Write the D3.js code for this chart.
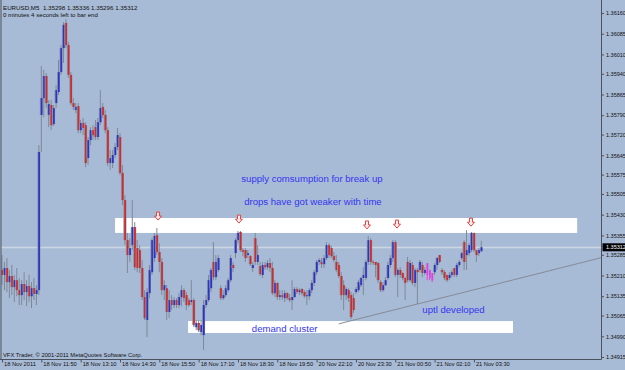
<!DOCTYPE html>
<html><head><meta charset="utf-8">
<script src="https://cdn.jsdelivr.net/npm/d3@7/dist/d3.min.js"></script>
<style>
body{margin:0;background:#a8bbd6}
svg{display:block}
text{font-family:"Liberation Sans",Arial,sans-serif}
</style>
</head><body><svg id="c" width="625" height="370"></svg>
<script>
// ---------------- data ----------------
const symbolInfo = "EURUSD,M5  1.35298 1.35336 1.35296 1.35312";
const timerInfo = "0 minutes 4 seconds left to bar end";
const copyright = "VFX Trader, \u00A9 2001-2011 MetaQuotes Software Corp.";

const priceTicks = [1.36160,1.36085,1.36010,1.35940,1.35865,1.35790,1.35720,1.35645,1.35575,
                    1.35505,1.35430,1.35355,1.35285,1.35210,1.35135,1.35065,1.34990,1.34915];
const timeTickBars = [0,16,32,48,64,80,96,112,128,144,160,176,192];
const timeLabels = ["18 Nov 2011","18 Nov 11:50","18 Nov 13:10","18 Nov 14:30","18 Nov 15:50",
  "18 Nov 17:10","18 Nov 18:30","18 Nov 19:50","20 Nov 22:10","20 Nov 23:30",
  "21 Nov 00:50","21 Nov 02:10","21 Nov 03:30"];
const currentPrice = 1.35312;

// M5 candles: [open, high, low, close]
const bars = [
[1.35230,1.35284,1.35175,1.35212],[1.35212,1.35259,1.35157,1.35237],[1.35237,1.35273,1.35150,1.35186],
[1.35186,1.35230,1.35128,1.35208],[1.35208,1.35248,1.35139,1.35168],[1.35168,1.35212,1.35114,1.35193],
[1.35193,1.35237,1.35135,1.35157],[1.35157,1.35201,1.35103,1.35139],[1.35139,1.35193,1.35103,1.35179],
[1.35179,1.35222,1.35121,1.35150],[1.35150,1.35193,1.35099,1.35172],[1.35172,1.35212,1.35114,1.35135],
[1.35135,1.35186,1.35092,1.35164],[1.35164,1.35201,1.35121,1.35143],[1.35143,1.35175,1.35103,1.35157],
[1.35157,1.35682,1.35139,1.35657],[1.35791,1.35968,1.35657,1.35852],[1.35852,1.35954,1.35783,1.35932],
[1.35932,1.35943,1.35816,1.35834],[1.35791,1.35845,1.35747,1.35830],[1.35827,1.35845,1.35736,1.35754],
[1.35758,1.35827,1.35751,1.35816],[1.35834,1.35899,1.35816,1.35881],[1.35874,1.35990,1.35863,1.35946],
[1.35946,1.36044,1.35936,1.36033],[1.36033,1.36127,1.35979,1.36117],[1.36124,1.36138,1.36033,1.36044],
[1.36044,1.36055,1.35925,1.35936],[1.35936,1.35946,1.35827,1.35834],[1.35834,1.35852,1.35809,1.35820],
[1.35809,1.35834,1.35798,1.35820],[1.35823,1.35834,1.35725,1.35736],[1.35736,1.35773,1.35725,1.35762],
[1.35762,1.35780,1.35718,1.35744],[1.35754,1.35765,1.35602,1.35617],[1.35635,1.35711,1.35610,1.35700],
[1.35700,1.35747,1.35682,1.35736],[1.35736,1.35754,1.35700,1.35718],[1.35747,1.35773,1.35700,1.35711],
[1.35711,1.35780,1.35700,1.35765],[1.35765,1.35881,1.35754,1.35816],[1.35820,1.35834,1.35780,1.35791],
[1.35791,1.35809,1.35725,1.35736],[1.35736,1.35747,1.35606,1.35617],[1.35617,1.35664,1.35592,1.35635],
[1.35617,1.35664,1.35599,1.35646],[1.35646,1.35689,1.35635,1.35675],[1.35675,1.35744,1.35664,1.35718],
[1.35711,1.35725,1.35573,1.35581],[1.35581,1.35610,1.35465,1.35483],[1.35483,1.35501,1.35320,1.35338],
[1.35338,1.35364,1.35219,1.35284],[1.35284,1.35345,1.35259,1.35309],[1.35320,1.35483,1.35302,1.35385],
[1.35385,1.35403,1.35230,1.35240],[1.35309,1.35338,1.35222,1.35237],[1.35302,1.35320,1.35219,1.35237],
[1.35237,1.35266,1.35121,1.35132],[1.35132,1.35157,1.35049,1.35056],[1.35049,1.35164,1.34987,1.35150],
[1.35146,1.35248,1.35128,1.35230],[1.35222,1.35345,1.35212,1.35338],[1.35273,1.35364,1.35259,1.35353],
[1.35356,1.35382,1.35284,1.35295],[1.35295,1.35327,1.35222,1.35259],[1.35259,1.35273,1.35139,1.35157],
[1.35157,1.35193,1.35121,1.35175],[1.35164,1.35175,1.35049,1.35078],[1.35078,1.35157,1.35056,1.35121],
[1.35121,1.35139,1.35085,1.35103],[1.35103,1.35132,1.35092,1.35121],[1.35121,1.35128,1.35092,1.35103],
[1.35103,1.35146,1.35092,1.35132],[1.35132,1.35175,1.35099,1.35157],[1.35157,1.35164,1.35114,1.35128],
[1.35139,1.35150,1.35085,1.35103],[1.35121,1.35128,1.35096,1.35103],[1.35114,1.35193,1.35103,1.35121],
[1.35121,1.35128,1.35023,1.35031],[1.35023,1.35049,1.35012,1.35038],[1.35038,1.35049,1.35005,1.35012],
[1.35005,1.35049,1.34994,1.35031],[1.34994,1.35121,1.34940,1.35103],[1.35103,1.35139,1.35092,1.35121],
[1.35121,1.35212,1.35114,1.35193],[1.35164,1.35237,1.35150,1.35230],[1.35259,1.35331,1.35193,1.35204],
[1.35204,1.35284,1.35193,1.35259],[1.35230,1.35284,1.35222,1.35273],[1.35164,1.35175,1.35121,1.35128],
[1.35128,1.35157,1.35121,1.35139],[1.35139,1.35175,1.35132,1.35164],[1.35157,1.35201,1.35150,1.35193],
[1.35193,1.35284,1.35186,1.35273],[1.35248,1.35259,1.35222,1.35237],[1.35291,1.35345,1.35273,1.35338],
[1.35338,1.35371,1.35327,1.35364],[1.35367,1.35371,1.35295,1.35302],[1.35302,1.35309,1.35280,1.35295],
[1.35302,1.35309,1.35259,1.35273],[1.35284,1.35302,1.35273,1.35291],[1.35280,1.35284,1.35244,1.35251],
[1.35237,1.35259,1.35222,1.35248],[1.35345,1.35364,1.35248,1.35259],[1.35259,1.35320,1.35248,1.35284],
[1.35244,1.35259,1.35208,1.35215],[1.35212,1.35259,1.35201,1.35248],[1.35248,1.35259,1.35230,1.35240],
[1.35240,1.35266,1.35230,1.35255],[1.35255,1.35273,1.35222,1.35237],[1.35237,1.35259,1.35139,1.35146],
[1.35146,1.35193,1.35132,1.35183],[1.35183,1.35186,1.35121,1.35132],[1.35132,1.35157,1.35121,1.35139],
[1.35139,1.35157,1.35121,1.35132],[1.35128,1.35157,1.35114,1.35146],[1.35146,1.35150,1.35121,1.35128],
[1.35128,1.35143,1.35114,1.35121],[1.35121,1.35193,1.35085,1.35132],[1.35132,1.35168,1.35128,1.35161],
[1.35161,1.35168,1.35143,1.35150],[1.35150,1.35164,1.35139,1.35157],[1.35161,1.35164,1.35139,1.35146],
[1.35150,1.35157,1.35128,1.35135],[1.35135,1.35157,1.35103,1.35139],[1.35135,1.35164,1.35121,1.35157],
[1.35157,1.35193,1.35146,1.35183],[1.35183,1.35230,1.35172,1.35222],[1.35222,1.35266,1.35212,1.35259],
[1.35259,1.35273,1.35248,1.35266],[1.35259,1.35273,1.35237,1.35251],[1.35251,1.35284,1.35237,1.35273],
[1.35273,1.35331,1.35266,1.35320],[1.35320,1.35327,1.35273,1.35284],[1.35309,1.35317,1.35273,1.35280],
[1.35280,1.35295,1.35259,1.35266],[1.35259,1.35284,1.35222,1.35230],[1.35248,1.35259,1.35201,1.35208],
[1.35208,1.35222,1.35121,1.35139],[1.35175,1.35193,1.35085,1.35139],[1.35139,1.35168,1.35121,1.35161],
[1.35157,1.35164,1.35114,1.35128],[1.35139,1.35150,1.35052,1.35060],[1.35128,1.35146,1.35074,1.35085],
[1.35150,1.35168,1.35143,1.35161],[1.35157,1.35193,1.35150,1.35186],[1.35175,1.35204,1.35168,1.35201],
[1.35201,1.35240,1.35139,1.35212],[1.35201,1.35266,1.35193,1.35259],[1.35259,1.35353,1.35248,1.35338],
[1.35338,1.35345,1.35248,1.35259],[1.35259,1.35266,1.35248,1.35255],[1.35259,1.35259,1.35204,1.35248],
[1.35255,1.35259,1.35183,1.35193],[1.35186,1.35193,1.35150,1.35157],[1.35157,1.35186,1.35150,1.35175],
[1.35175,1.35204,1.35172,1.35193],[1.35201,1.35259,1.35193,1.35248],[1.35248,1.35284,1.35237,1.35273],
[1.35273,1.35338,1.35259,1.35331],[1.35331,1.35338,1.35204,1.35212],[1.35212,1.35237,1.35132,1.35230],
[1.35230,1.35240,1.35201,1.35212],[1.35219,1.35222,1.35193,1.35201],[1.35201,1.35204,1.35121,1.35183],
[1.35259,1.35277,1.35186,1.35193],[1.35193,1.35266,1.35186,1.35255],[1.35248,1.35259,1.35175,1.35183],
[1.35183,1.35237,1.35168,1.35230],[1.35230,1.35237,1.35107,1.35222],[1.35230,1.35266,1.35222,1.35259],
[1.35248,1.35259,1.35204,1.35219],[1.35219,1.35240,1.35212,1.35230],[1.35255,1.35255,1.35193,1.35212],
[1.35230,1.35230,1.35193,1.35201],[1.35219,1.35219,1.35186,1.35193],[1.35222,1.35255,1.35212,1.35248],
[1.35248,1.35277,1.35230,1.35273],[1.35284,1.35284,1.35255,1.35259],[1.35230,1.35237,1.35212,1.35222],
[1.35222,1.35230,1.35193,1.35201],[1.35212,1.35212,1.35186,1.35193],[1.35201,1.35222,1.35193,1.35212],
[1.35212,1.35230,1.35204,1.35222],[1.35237,1.35237,1.35204,1.35212],[1.35212,1.35255,1.35204,1.35248],
[1.35248,1.35266,1.35240,1.35259],[1.35273,1.35295,1.35266,1.35291],[1.35331,1.35338,1.35230,1.35259],
[1.35284,1.35374,1.35230,1.35302],[1.35291,1.35327,1.35280,1.35320],[1.35302,1.35367,1.35295,1.35364],
[1.35364,1.35364,1.35295,1.35302],[1.35302,1.35302,1.35259,1.35284],[1.35291,1.35309,1.35280,1.35302],
[1.35298,1.35336,1.35296,1.35312]
];
const markedBars = [173,174,175];

// chart objects (bar index / price anchors)
const zoneBars   = [[46, 234], [75.7, 207.9]];
const zonePrices = [[1.35418, 1.35364], [1.35045, 1.35002]];
const arrowBars   = [63.5, 96.4, 148.5, 160.7, 190.8];
const arrowPrices = [1.35425, 1.35414, 1.35393, 1.35396, 1.35403];
const trendBars   = [137, 195];
const trendPrices = [1.35035, 1.35165];
const noteTexts  = ["supply comsumption for break up", "drops have got weaker with time", "demand cluster", "uptl developed"];
const noteBars   = [126.1, 126.5, 115, 183.7];
const notePrices = [1.35548, 1.35465, 1.35005, 1.35074];

// ---------------- drawing ----------------
const W = 625, H = 370, plotR = 601.5, plotB = 359.5;
const svg = d3.select("#c");
svg.append("rect").attr("width", W).attr("height", H).attr("fill", "#a8bbd6");

const x = d3.scaleLinear().domain([0, 240]).range([2, 591.9]);
const y = d3.scaleLinear().domain([1.34915, 1.36160]).range([357, 13]);

svg.append("clipPath").attr("id", "clip").append("rect")
  .attr("x", 1).attr("y", 0).attr("width", plotR - 1).attr("height", plotB);
const plot = svg.append("g").attr("clip-path", "url(#clip)");

// current price line
plot.append("line").attr("x1", 0).attr("x2", plotR)
  .attr("y1", Math.round(y(currentPrice)) + 0.5).attr("y2", Math.round(y(currentPrice)) + 0.5)
  .attr("stroke", "#ccd6e3").attr("stroke-width", 1.5);

// zones
plot.selectAll("rect.zone").data(zoneBars).join("rect").attr("class", "zone")
  .attr("x", d => x(d[0])).attr("width", d => x(d[1]) - x(d[0]))
  .attr("y", (d, i) => y(zonePrices[i][0]))
  .attr("height", (d, i) => y(zonePrices[i][1]) - y(zonePrices[i][0]))
  .attr("fill", "#ffffff");

// trend line (ray)
const slope = (y(trendPrices[1]) - y(trendPrices[0])) / (x(trendBars[1]) - x(trendBars[0]));
plot.append("line")
  .attr("x1", x(trendBars[0])).attr("y1", y(trendPrices[0]))
  .attr("x2", plotR).attr("y2", y(trendPrices[0]) + slope * (plotR - x(trendBars[0])))
  .attr("stroke", "#858b96").attr("stroke-width", 1);

// candles
const cg = plot.append("g");
bars.forEach((b, i) => {
  const [o, h, l, c] = b;
  const cx = x(i);
  const marked = markedBars.includes(i);
  const col = marked ? "#e040e0" : (c >= o ? "#2c34c8" : "#d02a2a");
  cg.append("rect").attr("x", cx - 0.5).attr("width", 1)
    .attr("y", y(h)).attr("height", Math.max(1, y(l) - y(h)))
    .attr("fill", marked ? "#e040e0" : "#7f8898");
  const top = y(Math.max(o, c)), bot = y(Math.min(o, c));
  const hgt = Math.max(1, bot - top);
  if (!marked) {
    cg.append("rect").attr("x", cx - 1.5).attr("width", 3)
      .attr("y", top).attr("height", hgt).attr("fill", "#8a93a6");
  }
  cg.append("rect").attr("x", cx - 0.6).attr("width", 1.7)
    .attr("y", top).attr("height", hgt).attr("fill", col);
});

// arrows
const arrowPath = "M-1.5,-4H1.5V0H3.5L0,4L-3.5,0H-1.5Z";
plot.selectAll("path.arrow").data(arrowBars).join("path").attr("class", "arrow")
  .attr("transform", (d, i) => `translate(${x(d)},${y(arrowPrices[i])})`)
  .attr("d", arrowPath).attr("fill", "#fbeeee").attr("stroke", "#e23030").attr("stroke-width", 0.9);

// notes
plot.selectAll("text.note").data(noteTexts).join("text").attr("class", "note")
  .attr("x", (d, i) => x(noteBars[i])).attr("y", (d, i) => y(notePrices[i]))
  .attr("text-anchor", "middle").attr("font-size", 9.6).attr("fill", "#3535f0")
  .text(d => d);

// frame
svg.append("line").attr("x1", 1).attr("x2", 1).attr("y1", 0).attr("y2", plotB).attr("stroke", "#4a5260");
svg.append("line").attr("x1", 0).attr("x2", plotR).attr("y1", plotB).attr("y2", plotB).attr("stroke", "#4a5260");

// price axis
const ya = svg.append("g").attr("transform", `translate(${plotR},0)`)
  .call(d3.axisRight(y).tickValues(priceTicks).tickFormat(d3.format(".5f")).tickSize(2.5).tickPadding(2));
ya.select(".domain").attr("d", `M0,0V${plotB}`).attr("stroke", "#4a5260");
ya.selectAll(".tick line").attr("stroke", "#4a5260");
ya.selectAll("text").attr("font-size", 5.5).attr("fill", "#111").attr("font-family", "Liberation Sans, Arial, sans-serif");

// current price label
const cy = y(currentPrice);
svg.append("rect").attr("x", plotR + 1).attr("y", cy - 4).attr("width", 23).attr("height", 8).attr("fill", "#000");
svg.append("text").attr("x", plotR + 4.5).attr("y", cy + 2).attr("font-size", 5.5).attr("fill", "#fff")
  .text(d3.format(".5f")(currentPrice));

// time axis
const xa = svg.append("g").attr("transform", `translate(0,${plotB})`)
  .call(d3.axisBottom(x).tickValues(timeTickBars).tickFormat((d, i) => timeLabels[i]).tickSize(3).tickPadding(1));
xa.select(".domain").remove();
xa.selectAll(".tick line").attr("stroke", "#4a5260");
xa.selectAll("text").attr("text-anchor", "start").attr("dx", 1.5).attr("dy", "0.5em")
  .attr("font-size", 5.7).attr("fill", "#111").attr("font-family", "Liberation Sans, Arial, sans-serif");

// header + footer
svg.append("text").attr("x", 3).attr("y", 9.5).attr("font-size", 6.2).attr("fill", "#111")
  .attr("xml:space", "preserve").text(symbolInfo);
svg.append("text").attr("x", 3).attr("y", 16.5).attr("font-size", 6.1).attr("fill", "#111").text(timerInfo);
svg.append("text").attr("x", 3).attr("y", 356.5).attr("font-size", 5.8).attr("fill", "#111").text(copyright);
</script>
</body></html>
